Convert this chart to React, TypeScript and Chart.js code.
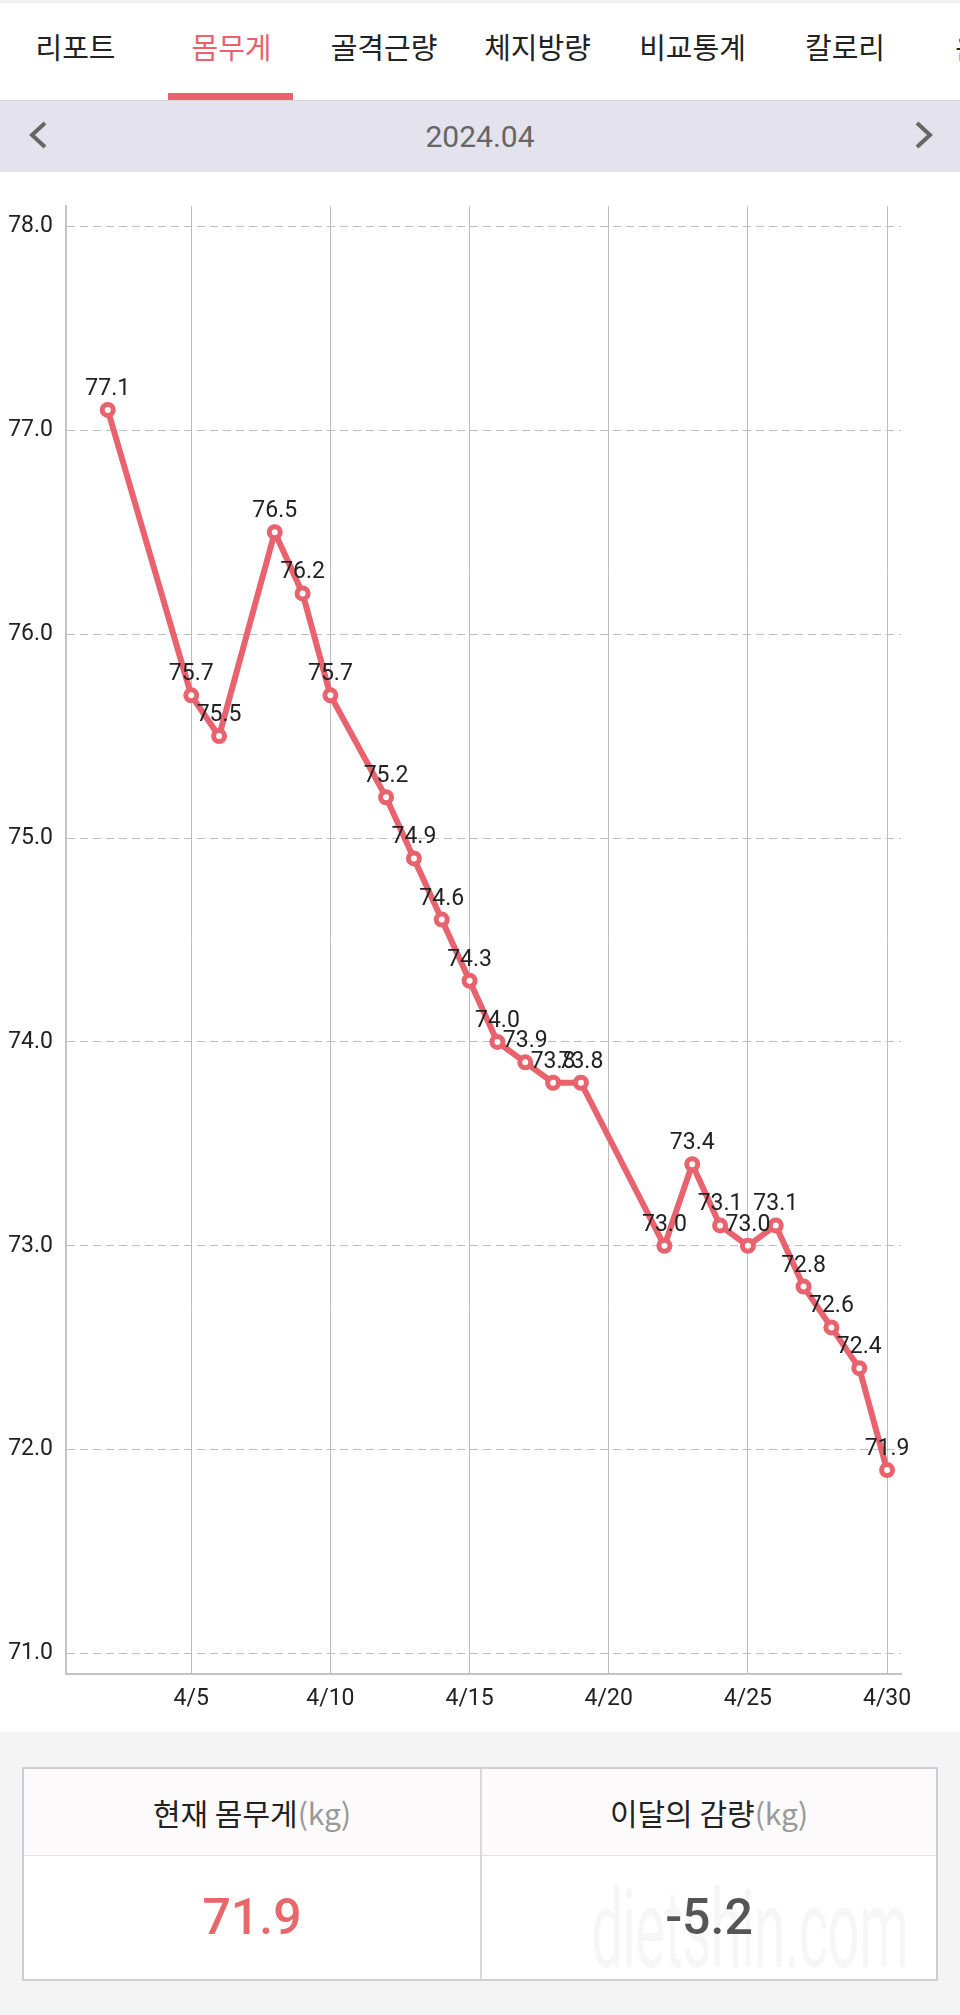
import React, { useEffect, useRef } from 'react';
import { Chart, registerables } from 'chart.js';

Chart.register(...registerables);

// ---- data ----
const days = [2, 5, 6, 8, 9, 10, 12, 13, 14, 15, 16, 17, 18, 19, 22, 23, 24, 25, 26, 27, 28, 29, 30];
const weights = [77.1, 75.7, 75.5, 76.5, 76.2, 75.7, 75.2, 74.9, 74.6, 74.3, 74.0, 73.9, 73.8, 73.8, 73.0, 73.4, 73.1, 73.0, 73.1, 72.8, 72.6, 72.4, 71.9];
const xTicks = [5, 10, 15, 20, 25, 30];
const yTicks = [71, 72, 73, 74, 75, 76, 77, 78];
const monthPrefix = '4/';
const tabs = ['리포트', '몸무게', '골격근량', '체지방량', '비교통계', '칼로리', '운동'];
const activeTab = 1;
const monthLabel = '2024.04';
const currentWeight = '71.9';
const monthChange = '-5.2';
const headerCurrent = '현재 몸무게';
const headerChange = '이달의 감량';
const unit = '(kg)';

// ---- layout (not data) ----
const tabCenters = [75.5, 231.5, 384, 537.5, 692.5, 845, 982];
const RED = '#e8636d';
const FONT = 'Roboto, "Noto Sans CJK KR", sans-serif';

const valueLabels = {
  id: 'valueLabels',
  afterDatasetsDraw(chart: any) {
    const ctx = chart.ctx;
    const meta = chart.getDatasetMeta(0);
    ctx.save();
    ctx.font = '23px Roboto';
    ctx.fillStyle = '#222';
    ctx.textAlign = 'center';
    ctx.textBaseline = 'alphabetic';
    meta.data.forEach((pt: any, i: number) => {
      ctx.fillText(weights[i].toFixed(1), pt.x, pt.y - 15);
    });
    ctx.restore();
  },
};

function WeightChart() {
  const ref = useRef<HTMLCanvasElement | null>(null);
  useEffect(() => {
    if (!ref.current) return;
    const chart = new Chart(ref.current, {
      type: 'line',
      data: {
        datasets: [
          {
            data: days.map((d, i) => ({ x: d, y: weights[i] })),
            borderColor: RED,
            borderWidth: 6,
            tension: 0,
            pointRadius: 5.5,
            pointBorderWidth: 5,
            pointBackgroundColor: '#fff',
            pointBorderColor: RED,
            clip: false as any,
          },
        ],
      },
      options: {
        animation: false,
        responsive: false,
        devicePixelRatio: 1,
        events: [],
        layout: { padding: { top: 34, right: 59, left: 0, bottom: 0 } },
        plugins: { legend: { display: false }, tooltip: { enabled: false } },
        scales: {
          x: {
            type: 'linear',
            min: 0.5,
            max: 30.5,
            afterBuildTicks: (s: any) => {
              s.ticks = xTicks.map((v) => ({ value: v }));
            },
            afterFit: (s: any) => {
              s.height = 58;
            },
            grid: { color: '#bdbdbd', lineWidth: 1, drawTicks: false },
            border: { display: true, color: '#c4c4c4', width: 2 },
            ticks: {
              padding: 11,
              color: '#222',
              font: { family: 'Roboto', size: 23 },
              maxRotation: 0,
              autoSkip: false,
              callback: (v: any) => monthPrefix + v,
            },
          },
          y: {
            min: 70.9,
            max: 78.1,
            afterBuildTicks: (s: any) => {
              s.ticks = yTicks.map((v) => ({ value: v }));
            },
            afterFit: (s: any) => {
              s.width = 66;
            },
            grid: { color: '#bdbdbd', lineWidth: 1, drawTicks: false },
            border: { display: true, color: '#c4c4c4', width: 2, dash: [8, 5] },
            ticks: {
              padding: 13,
              color: '#222',
              font: { family: 'Roboto', size: 23 },
              callback: (v: any) => Number(v).toFixed(1),
            },
          },
        },
      } as any,
      plugins: [valueLabels],
    });
    return () => chart.destroy();
  }, []);
  return <canvas ref={ref} width={960} height={1560} style={{ display: 'block' }} />;
}

export default function App() {
  return (
    <div
      style={{
        position: 'absolute',
        top: 0,
        left: 0,
        width: 960,
        height: 2015,
        overflow: 'hidden',
        background: '#fff',
        fontFamily: FONT,
      }}
    >
      {/* top strip */}
      <div style={{ position: 'absolute', top: 0, left: 0, width: 960, height: 3, background: '#f1f1f1' }} />
      {/* tabs */}
      {tabs.map((t, i) => (
        <div
          key={t}
          style={{
            position: 'absolute',
            top: 26,
            left: tabCenters[i] - 80,
            width: 160,
            textAlign: 'center',
            fontSize: 29,
            lineHeight: '40px',
            color: i === activeTab ? RED : '#222',
            fontFamily: '"Noto Sans CJK KR", sans-serif',
            whiteSpace: 'nowrap',
          }}
        >
          {t}
        </div>
      ))}
      <div style={{ position: 'absolute', top: 93, left: 168, width: 125, height: 7, background: RED }} />
      <div style={{ position: 'absolute', top: 100, left: 0, width: 960, height: 1, background: '#d6d6da' }} />
      {/* month bar */}
      <div style={{ position: 'absolute', top: 101, left: 0, width: 960, height: 71, background: '#e4e2ed' }}>
        <svg width={960} height={71} style={{ position: 'absolute', top: 0, left: 0 }}>
          <polyline points="45,22 32,34 45,46" fill="none" stroke="#666" strokeWidth={4} />
          <polyline points="917,22 930,34 917,46" fill="none" stroke="#666" strokeWidth={4} />
        </svg>
        <div
          style={{
            position: 'absolute',
            top: 0,
            left: 0,
            width: 960,
            textAlign: 'center',
            lineHeight: '71px',
            fontSize: 30,
            color: '#666',
          }}
        >
          {monthLabel}
        </div>
      </div>
      {/* chart */}
      <div style={{ position: 'absolute', top: 172, left: 0, width: 960, height: 1560 }}>
        <WeightChart />
      </div>
      {/* summary */}
      <div style={{ position: 'absolute', top: 1732, left: 0, width: 960, height: 283, background: '#f4f4f5' }} />
      <div
        style={{
          position: 'absolute',
          top: 1767,
          left: 22,
          width: 912,
          height: 210,
          border: '2px solid #cfcfd3',
          background: '#fff',
          overflow: 'hidden',
        }}
      >
        <div style={{ position: 'absolute', top: 0, left: 0, width: 912, height: 86, background: '#fdfafc', borderBottom: '1px solid #e0e0e4' }} />
        <div style={{ position: 'absolute', top: 0, left: 456, width: 2, height: 210, background: '#d9d9dd' }} />
        <div style={{ position: 'absolute', top: 0, left: 0, width: 456, height: 86, lineHeight: '86px', textAlign: 'center', fontSize: 30, color: '#222', fontFamily: '"Noto Sans CJK KR", sans-serif' }}>
          {headerCurrent}
          <span style={{ color: '#999' }}>{unit}</span>
        </div>
        <div style={{ position: 'absolute', top: 0, left: 458, width: 454, height: 86, lineHeight: '86px', textAlign: 'center', fontSize: 30, color: '#222', fontFamily: '"Noto Sans CJK KR", sans-serif' }}>
          {headerChange}
          <span style={{ color: '#999' }}>{unit}</span>
        </div>
        <div
          style={{
            position: 'absolute',
            top: 116,
            left: 745 - 22 - 300,
            width: 600,
            height: 90,
            lineHeight: '90px',
            textAlign: 'center',
            fontSize: 110,
            color: 'rgba(0,0,0,0.035)',
            transform: 'scaleX(0.52)',
            letterSpacing: -2,
            whiteSpace: 'nowrap',
          }}
        >
          dietshin.com
        </div>
        <div style={{ position: 'absolute', top: 87, left: 0, width: 456, height: 123, lineHeight: '123px', textAlign: 'center', fontSize: 50, fontWeight: 500, color: '#e8676b' }}>
          {currentWeight}
        </div>
        <div style={{ position: 'absolute', top: 87, left: 458, width: 454, height: 123, lineHeight: '123px', textAlign: 'center', fontSize: 50, fontWeight: 500, color: '#555' }}>
          {monthChange}
        </div>
      </div>
    </div>
  );
}
